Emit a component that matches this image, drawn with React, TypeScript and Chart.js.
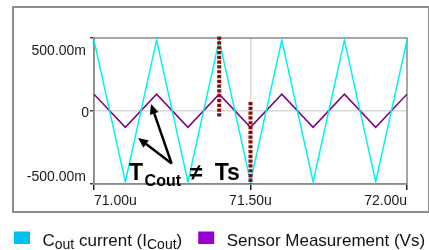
import React, { useEffect, useRef } from "react";
import { Chart, registerables } from "chart.js";

Chart.register(...registerables);

// ---- data ----
const timeUs = [71.0, 71.1, 71.2, 71.3, 71.4, 71.5, 71.6, 71.7, 71.8, 71.9, 72.0];
const coutCurrent = [0.485, -0.485, 0.485, -0.485, 0.485, -0.485, 0.485, -0.485, 0.485, -0.485, 0.485];
const sensorVs = [0.115, -0.112, 0.115, -0.112, 0.115, -0.112, 0.115, -0.112, 0.115, -0.112, 0.115];

const yTicks = [-0.5, 0, 0.5];
const xTicks = [71.0, 71.5, 72.0];

// dotted marker lines (time, top value, bottom value)
const markerTimes = [71.4, 71.5];
const markerTops = [0.51, 0.062];
const markerBottoms = [-0.048, -0.5];

// annotation: arrows from a common start to two tips (time, value)
const arrowStart = [71.248, -0.36];
const arrowTips = [
  [71.182, 0.048],
  [71.141, -0.185],
];
const annotAnchor = [71.112, -0.473];

const seriesNames = ["Cout current (ICout)", "Sensor Measurement (Vs)"];
const lineColors = ["#00f2f2", "#800080"];
const legendColors = ["#00c0f0", "#9400d0"];

const FONT = "'Liberation Sans', Arial, sans-serif";

const fmtY = (v: number) => (v === 0 ? "0" : (v * 1000).toFixed(2) + "m");
const fmtX = (v: number) => v.toFixed(2) + "u";

const framePlugin = {
  id: "frame",
  beforeDraw(chart: any) {
    const { ctx, width, height } = chart;
    ctx.save();
    ctx.fillStyle = "#ffffff";
    ctx.fillRect(0, 0, width, height);
    ctx.strokeStyle = "#8e8e8e";
    ctx.lineWidth = 2;
    ctx.strokeRect(13, 7, width - 13, 205);
    ctx.restore();
  },
  beforeDatasetsDraw(chart: any) {
    const { ctx, chartArea } = chart;
    ctx.save();
    ctx.strokeStyle = "#8a8a8a";
    ctx.lineWidth = 1.5;
    ctx.strokeRect(chartArea.left, chartArea.top, chartArea.right - chartArea.left, chartArea.bottom - chartArea.top);
    // y tick labels
    const ys = chart.scales.y;
    ctx.fillStyle = "#1a1a1a";
    ctx.font = `14px ${FONT}`;
    ctx.textAlign = "right";
    ctx.textBaseline = "alphabetic";
    yTicks.forEach((v) => {
      const py = ys.getPixelForValue(v);
      let by = py + 5.5;
      let rx = chartArea.left - 5;
      if (v === ys.max) { by = py + 16.5; rx = chartArea.left - 8; }
      if (v === ys.min) { by = py - 3; rx = chartArea.left - 8; }
      ctx.fillText(fmtY(v), rx, by);
    });
    ctx.restore();
  },
};

const annotPlugin = {
  id: "annot",
  afterDatasetsDraw(chart: any) {
    const { ctx } = chart;
    const xs = chart.scales.x;
    const ys = chart.scales.y;
    const sx = xs.getPixelForValue(arrowStart[0]);
    const sy = ys.getPixelForValue(arrowStart[1]);
    ctx.save();
    ctx.strokeStyle = "#000";
    ctx.fillStyle = "#000";
    ctx.lineWidth = 2.5;
    arrowTips.forEach(([t, v]) => {
      const tx = xs.getPixelForValue(t);
      const ty = ys.getPixelForValue(v);
      const ang = Math.atan2(ty - sy, tx - sx);
      const hl = 10;
      const hw = 4.5;
      const bx = tx - hl * Math.cos(ang);
      const by = ty - hl * Math.sin(ang);
      ctx.beginPath();
      ctx.moveTo(sx, sy);
      ctx.lineTo(bx, by);
      ctx.stroke();
      ctx.beginPath();
      ctx.moveTo(tx, ty);
      ctx.lineTo(bx + hw * Math.sin(ang), by - hw * Math.cos(ang));
      ctx.lineTo(bx - hw * Math.sin(ang), by + hw * Math.cos(ang));
      ctx.closePath();
      ctx.fill();
    });
    // text "T_Cout ≠ Ts"
    let x = xs.getPixelForValue(annotAnchor[0]);
    const y = ys.getPixelForValue(annotAnchor[1]);
    ctx.textAlign = "left";
    ctx.textBaseline = "alphabetic";
    ctx.font = `bold 23px ${FONT}`;
    ctx.fillText("T", x, y);
    x += ctx.measureText("T").width + 1.5;
    ctx.font = `bold 16px ${FONT}`;
    ctx.fillText("Cout", x, y + 5.5);
    x += ctx.measureText("Cout").width + 9;
    ctx.font = `bold 23px ${FONT}`;
    ctx.fillText("\u2260", x, y);
    x += ctx.measureText("\u2260").width + 12;
    ctx.fillText("Ts", x, y);
    ctx.restore();
  },
};

const legendPlugin = {
  id: "customLegend",
  afterDraw(chart: any) {
    const { ctx } = chart;
    ctx.save();
    const base = 246;
    const runs: [string, boolean][][] = [
      [["C", false], ["out", true], [" current (I", false], ["Cout", true], [")", false]],
      [["Sensor Measurement (Vs)", false]],
    ];
    let x = 14;
    runs.forEach((r, i) => {
      ctx.fillStyle = legendColors[i];
      ctx.fillRect(x, 231.5, 16, 12.5);
      x += 28.5;
      ctx.fillStyle = "#111";
      ctx.textBaseline = "alphabetic";
      ctx.textAlign = "left";
      r.forEach(([s, sub]) => {
        ctx.font = sub ? `14px ${FONT}` : `17px ${FONT}`;
        ctx.fillText(s, x, sub ? base + 3 : base);
        x += ctx.measureText(s).width;
      });
      x += 16;
    });
    ctx.restore();
  },
};

export default function App() {
  const ref = useRef<HTMLCanvasElement | null>(null);
  useEffect(() => {
    document.body.style.margin = "0";
    const canvas = ref.current!;
    const markerSets = markerTimes.map((t, i) => ({
      label: "marker" + i,
      data: [
        { x: t, y: markerTops[i] },
        { x: t, y: markerBottoms[i] },
      ],
      borderColor: "#8b0a0a",
      borderWidth: 4,
      borderDash: [3.2, 1.6],
      borderCapStyle: "butt",
      pointRadius: 0,
      clip: false,
    }));
    const chart = new Chart(canvas, {
      type: "line",
      data: {
        datasets: [
          ...markerSets,
          {
            label: seriesNames[0],
            data: timeUs.map((t, i) => ({ x: t, y: coutCurrent[i] })),
            borderColor: lineColors[0],
            borderWidth: 1.5,
            pointRadius: 0,
            tension: 0,
          },
          {
            label: seriesNames[1],
            data: timeUs.map((t, i) => ({ x: t, y: sensorVs[i] })),
            borderColor: lineColors[1],
            borderWidth: 1.5,
            pointRadius: 0,
            tension: 0,
          },
        ] as any,
      },
      options: {
        animation: false,
        responsive: false,
        devicePixelRatio: 1,
        layout: { padding: { top: 38, right: 22, bottom: 36, left: 0 } },
        plugins: { legend: { display: false }, tooltip: { enabled: false } },
        scales: {
          x: {
            type: "linear",
            min: 71,
            max: 72,
            afterBuildTicks: (s: any) => {
              s.ticks = xTicks.map((v) => ({ value: v }));
            },
            afterFit: (s: any) => {
              s.height = 30;
            },
            ticks: {
              callback: (v: any) => fmtX(Number(v)),
              color: "#1a1a1a",
              font: { family: FONT, size: 14 },
              align: "inner",
              padding: 3,
              maxRotation: 0,
              autoSkip: false,
            },
            grid: {
              color: (c: any) => (c.tick && c.tick.value === 71.5 ? "#d8d8d8" : "rgba(0,0,0,0)"),
              lineWidth: 1.5,
              tickColor: "#222",
              tickLength: 6,
            },
            border: { color: "#8a8a8a", width: 1.5 },
          },
          y: {
            type: "linear",
            min: -0.5,
            max: 0.5,
            afterBuildTicks: (s: any) => {
              s.ticks = yTicks.map((v) => ({ value: v }));
            },
            afterFit: (s: any) => {
              s.width = 94;
            },
            ticks: {
              callback: (v: any) => fmtY(Number(v)),
              color: "rgba(0,0,0,0)",
              font: { family: FONT, size: 14 },
              padding: 1,
            },
            grid: {
              color: (c: any) => (c.tick && c.tick.value === 0 ? "#d8d8d8" : "rgba(0,0,0,0)"),
              lineWidth: 1.5,
              tickColor: "#444",
              tickLength: 4,
            },
            border: { color: "#8a8a8a", width: 1.5 },
          },
        },
      } as any,
      plugins: [framePlugin, annotPlugin, legendPlugin],
    });
    return () => chart.destroy();
  }, []);
  return (
    <div style={{ width: 429, height: 250 }}>
      <canvas ref={ref} width={429} height={250} style={{ display: "block" }} />
    </div>
  );
}
